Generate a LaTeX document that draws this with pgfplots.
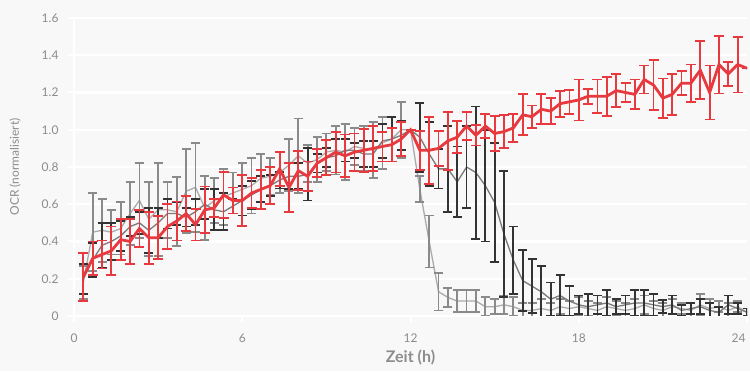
\documentclass[border=0pt]{standalone}
\usepackage{pgfplots}
\pgfplotsset{compat=1.18}
\usepackage{pgfplotstable}
\usepackage{fontspec}
\setmainfont{Lato}
\usetikzlibrary{backgrounds}
\definecolor{bg}{HTML}{F8F8F8}
\definecolor{redl}{HTML}{E8393E}
\definecolor{redb}{HTML}{E8393E}
\definecolor{dline}{HTML}{7A7A7A}
\definecolor{dbar}{HTML}{333333}
\definecolor{lline}{HTML}{ABABAB}
\definecolor{lbar}{HTML}{8A8A8A}
\definecolor{txt}{HTML}{8C8C8C}

\pgfplotstableread{
t v e
0.333 0.21 0.13
0.667 0.31 0.09
1.000 0.33 0.075
1.333 0.35 0.13
1.667 0.41 0.11
2.000 0.40 0.12
2.333 0.47 0.10
2.667 0.42 0.14
3.000 0.42 0.115
3.333 0.48 0.12
3.667 0.51 0.105
4.000 0.55 0.095
4.333 0.49 0.085
4.667 0.57 0.125
5.000 0.58 0.05
5.333 0.65 0.125
5.667 0.62 0.07
6.000 0.62 0.135
6.333 0.66 0.08
6.667 0.68 0.105
7.000 0.70 0.10
7.333 0.79 0.09
7.667 0.69 0.13
8.000 0.78 0.105
8.333 0.75 0.08
8.667 0.82 0.075
9.000 0.85 0.095
9.333 0.88 0.11
9.667 0.86 0.115
10.000 0.88 0.10
10.333 0.89 0.115
10.667 0.90 0.12
11.000 0.91 0.08
11.333 0.92 0.09
11.667 0.95 0.09
12.000 1.00 0
12.333 0.89 0.105
12.667 0.89 0.18
13.000 0.90 0.095
13.333 0.94 0.155
13.667 0.96 0.085
14.000 1.02 0.075
14.333 0.97 0.055
14.667 1.02 0.065
15.000 0.98 0.095
15.333 0.99 0.09
15.667 1.01 0.075
16.000 1.08 0.11
16.333 1.07 0.06
16.667 1.11 0.08
17.000 1.10 0.07
17.333 1.14 0.07
17.667 1.15 0.065
18.000 1.16 0.11
18.333 1.18 0.04
18.667 1.18 0.09
19.000 1.18 0.105
19.333 1.21 0.09
19.667 1.20 0.05
20.000 1.19 0.08
20.333 1.27 0.075
20.667 1.24 0.135
21.000 1.17 0.105
21.333 1.19 0.11
21.667 1.25 0.065
22.000 1.25 0.10
22.333 1.32 0.155
22.667 1.20 0.145
23.000 1.35 0.155
23.333 1.30 0.065
23.667 1.35 0.15
24.000 1.33 0
}\redtab

\pgfplotstableread{
t v e
0.333 0.20 0.08
0.667 0.30 0.09
1.000 0.38 0.12
1.333 0.40 0.10
1.667 0.43 0.08
2.000 0.48 0.05
2.333 0.50 0.06
2.667 0.46 0.12
3.000 0.50 0.08
3.333 0.55 0.08
3.667 0.55 0.06
4.000 0.53 0.05
4.333 0.56 0.07
4.667 0.60 0.08
5.000 0.57 0.11
5.333 0.56 0.10
5.667 0.59 0.04
6.000 0.62 0.08
6.333 0.65 0.075
6.667 0.68 0.07
7.000 0.70 0.055
7.333 0.73 0.045
7.667 0.75 0.07
8.000 0.75 0.07
8.333 0.76 0.14
8.667 0.82 0.05
9.000 0.85 0.05
9.333 0.86 0.09
9.667 0.89 0.06
10.000 0.89 0.04
10.333 0.87 0.07
10.667 0.87 0.07
11.000 0.94 0.09
11.333 0.95 0.12
11.667 0.97 0.08
12.000 1.00 0
12.333 0.96 0.185
12.667 0.87 0.17
13.000 0.79 0.105
13.333 0.79 0.23
13.667 0.72 0.19
14.000 0.80 0.22
14.333 0.77 0.355
14.667 0.70 0.30
15.000 0.61 0.32
15.333 0.44 0.34
15.667 0.30 0.18
16.000 0.19 0.165
16.333 0.16 0.145
16.667 0.13 0.14
17.000 0.09 0.09
17.333 0.11 0.11
17.667 0.08 0.08
18.000 0.06 0.05
18.333 0.05 0.07
18.667 0.06 0.05
19.000 0.07 0.07
19.333 0.05 0.04
19.667 0.06 0.05
20.000 0.07 0.07
20.333 0.07 0.07
20.667 0.06 0.06
21.000 0.05 0.035
21.333 0.06 0.05
21.667 0.03 0.03
22.000 0.04 0.03
22.333 0.05 0.04
22.667 0.03 0.04
23.000 0.02 0.03
23.333 0.06 0.05
23.667 0.04 0.03
24.000 0.02 0.02
}\darktab

\pgfplotstableread{
t v e
0.333 0.18 0.09
0.667 0.45 0.21
1.000 0.46 0.17
1.333 0.45 0.12
1.667 0.47 0.14
2.000 0.55 0.17
2.333 0.62 0.20
2.667 0.52 0.20
3.000 0.57 0.25
3.333 0.57 0.15
3.667 0.56 0.185
4.000 0.67 0.225
4.333 0.69 0.24
4.667 0.58 0.17
5.000 0.62 0.12
5.333 0.64 0.15
5.667 0.66 0.11
6.000 0.68 0.14
6.333 0.70 0.15
6.667 0.74 0.13
7.000 0.75 0.10
7.333 0.77 0.11
7.667 0.81 0.14
8.000 0.86 0.20
8.333 0.82 0.10
8.667 0.84 0.12
9.000 0.88 0.10
9.333 0.89 0.13
9.667 0.88 0.15
10.000 0.91 0.10
10.333 0.90 0.12
10.667 0.89 0.15
11.000 0.93 0.14
11.333 0.95 0.12
11.667 1.00 0.15
12.000 1.00 0
12.333 0.68 0.07
12.667 0.40 0.14
13.000 0.13 0.10
13.333 0.10 0.05
13.667 0.08 0.06
14.000 0.08 0.06
14.333 0.08 0.06
14.667 0.05 0.05
15.000 0.05 0.04
15.333 0.06 0.05
15.667 0.05 0.05
16.000 0.03 0.04
16.333 0.03 0.04
16.667 0.04 0.05
17.000 0.03 0.04
17.333 0.05 0.04
17.667 0.04 0.04
18.000 0.05 0.05
18.333 0.04 0.04
18.667 0.03 0.04
19.000 0.05 0.05
19.333 0.04 0.04
19.667 0.03 0.04
20.000 0.04 0.05
20.333 0.06 0.05
20.667 0.04 0.04
21.000 0.03 0.04
21.333 0.05 0.04
21.667 0.04 0.03
22.000 0.03 0.04
22.333 0.06 0.06
22.667 0.04 0.05
23.000 0.05 0.03
23.333 0.03 0.04
23.667 0.05 0.03
24.000 0.02 0.02
}\lighttab

\begin{document}
\begin{tikzpicture}
\begin{axis}[
  name=ax,
  scale only axis,
  width=673pt, height=298pt,
  xmin=0, xmax=24, ymin=0, ymax=1.6,
  xtick={0,6,12,18,24},
  xticklabels={0,6,12,18,{\makebox[0pt][r]{24\hspace{1.5pt}}}},
  ytick={0,0.2,0.4,0.6,0.8,1.0,1.2,1.4,1.6},
  yticklabels={0,0.2,0.4,0.6,0.8,1.0,1.2,1.4,1.6},
  ymajorgrids,
  grid style={white, line width=2.4pt},
  axis lines*=left,
  axis line style={white, line width=2.4pt},
  tick style={white, line width=2pt},
  tick align=outside,
  major tick length=6pt,
  ticklabel style={font=\fontsize{12}{12}\selectfont, text=txt},
  xticklabel style={yshift=-8pt},
  yticklabel style={xshift=-6pt},
  xlabel={Zeit (h)},
  ylabel={OCR (normalisiert)},
  every axis x label/.style={at={(rel axis cs:0.5,0)}, yshift=-41pt, anchor=center, font=\fontsize{16}{16}\selectfont\bfseries, text=txt},
  every axis y label/.style={at={(rel axis cs:0,0.5)}, xshift=-59pt, rotate=90, anchor=center, font=\fontsize{12}{12}\selectfont, text=txt},
]
\addplot[lline, line width=1.3pt, mark=none,
  error bars/.cd, y dir=both, y explicit,
  error bar style={lbar, line width=1.8pt},
  error mark options={rotate=90, mark size=4.5pt, lbar, line width=1.8pt}]
  table[x=t, y=v, y error=e] {\lighttab};
\addplot[dline, line width=1.3pt, mark=none,
  error bars/.cd, y dir=both, y explicit,
  error bar style={dbar, line width=1.8pt},
  error mark options={rotate=90, mark size=4.5pt, dbar, line width=1.8pt}]
  table[x=t, y=v, y error=e] {\darktab};
\addplot[redl, line width=2.8pt, mark=none,
  error bars/.cd, y dir=both, y explicit,
  error bar style={redb, line width=1.8pt},
  error mark options={rotate=90, mark size=5pt, redb, line width=1.8pt}]
  table[x=t, y=v, y error=e] {\redtab};
\end{axis}
\begin{scope}[on background layer]
\fill[bg] ([shift={(-74pt,-55pt)}]ax.south west) rectangle ([shift={(3pt,18pt)}]ax.north east);
\end{scope}
\pgfresetboundingbox
\path[use as bounding box] ([shift={(-74pt,-55pt)}]ax.south west) rectangle ([shift={(3pt,18pt)}]ax.north east);
\end{tikzpicture}
\end{document}
